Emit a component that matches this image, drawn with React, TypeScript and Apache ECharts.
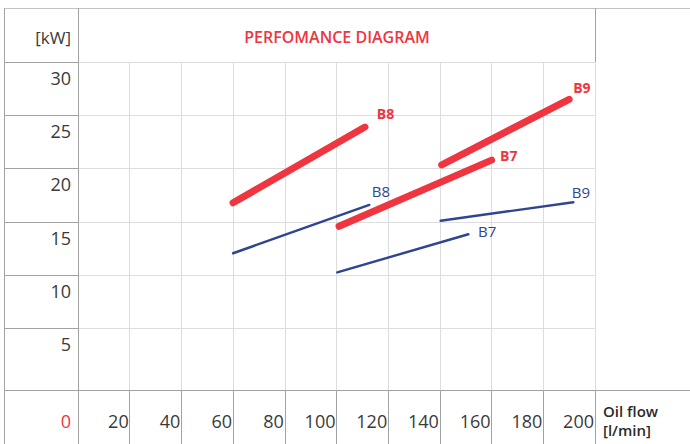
import React, { useEffect, useRef } from 'react';
import * as echarts from 'echarts';

// ---- data ----
const xMin = 0;
const xMax = 200;
const xStep = 20;
const yTickValues = [5, 10, 15, 20, 25, 30];
const yLabelValues = [5, 10, 15, 20, 25, 30];

const redB8 = [[60, 16.8], [111, 23.9]];
const redB7 = [[101, 14.6], [160, 20.8]];
const redB9 = [[140.7, 20.35], [190, 26.5]];
const blueB8 = [[60, 12.07], [112.7, 16.6]];
const blueB7 = [[100.3, 10.28], [151, 13.85]];
const blueB9 = [[140.3, 15.12], [191.6, 16.85]];

const titleText = 'PERFOMANCE DIAGRAM';
const yUnit = '[kW]';
const xUnit = 'Oil flow\n[l/min]';

// ---- styles ----
const RED = '#ee3540';
const BLUE = '#2f4592';
const DARK = '#a2a2a2';
const LIGHT = '#dddddd';
const TEXT = '#3a3a3a';
const FONT = '"Open Sans", "DejaVu Sans", sans-serif';

export default function App() {
  const ref = useRef<HTMLDivElement>(null);

  useEffect(() => {
    if (!ref.current) return;
    const chart = echarts.init(ref.current, undefined, { renderer: 'svg' });

    const mk = (
      name: string,
      data: number[][],
      color: string,
      width: number,
      bold: boolean,
      offset: number[]
    ) => ({
      type: 'line',
      name,
      data,
      symbol: 'none',
      showSymbol: false,
      silent: true,
      z: bold ? 4 : 3,
      lineStyle: { color, width, cap: 'round' },
      endLabel: {
        show: true,
        formatter: () => name,
        color,
        fontFamily: FONT,
        fontSize: bold ? 14 : 15,
        fontWeight: bold ? 'bold' : 'normal',
        distance: 0,
        offset,
        align: 'left',
        verticalAlign: 'middle',
      },
    });

    const hline = (x1: number, x2: number, y: number, color: string) => ({
      type: 'line',
      silent: true,
      shape: { x1, y1: y, x2, y2: y },
      style: { stroke: color, lineWidth: 1 },
    });
    const vline = (x: number, y1: number, y2: number, color: string) => ({
      type: 'line',
      silent: true,
      shape: { x1: x, y1, x2: x, y2 },
      style: { stroke: color, lineWidth: 1 },
    });

    const option: any = {
      animation: false,
      backgroundColor: '#ffffff',
      grid: { left: 78, top: 62, width: 517, height: 328, containLabel: false },
      xAxis: {
        type: 'value',
        min: xMin,
        max: xMax,
        interval: xStep,
        axisLine: { show: true, onZero: false, lineStyle: { color: DARK, width: 1 } },
        axisTick: { show: true, inside: false, length: 54, lineStyle: { color: DARK } },
        splitLine: { show: true, lineStyle: { color: LIGHT, width: 1 } },
        axisLabel: {
          show: true,
          showMinLabel: true,
          showMaxLabel: true,
          align: 'right',
          verticalAlign: 'middle',
          margin: 31,
          padding: [0, 1, 0, 0],
          fontFamily: FONT,
          fontSize: 18,
          color: TEXT,
          formatter: (v: number) => (v === 0 ? '{z|0}' : String(v)),
          rich: {
            z: { color: RED, fontFamily: FONT, fontSize: 18, padding: [0, 6, 0, 0] },
          },
        },
      },
      yAxis: {
        type: 'value',
        min: -0.75,
        max: 30,
        axisLine: { show: true, onZero: false, lineStyle: { color: DARK, width: 1 } },
        axisTick: {
          show: true,
          inside: false,
          length: 74,
          customValues: yTickValues,
          lineStyle: { color: DARK },
        },
        splitLine: { show: true, lineStyle: { color: LIGHT, width: 1 } },
        axisLabel: {
          show: true,
          customValues: yLabelValues,
          margin: 7,
          verticalAlign: 'top',
          lineHeight: 31,
          fontFamily: FONT,
          fontSize: 18,
          color: TEXT,
        },
      },
      graphic: [
        hline(4, 690, 8.5, '#c4c4c4'),
        vline(4.5, 8, 444, DARK),
        vline(78.5, 8, 444, DARK),
        vline(595.5, 8, 444, DARK),
        hline(4, 78, 390.5, DARK),
        hline(595, 690, 390.5, DARK),
        {
          type: 'text',
          silent: true,
          x: 337,
          y: 37,
          style: {
            text: titleText,
            fill: RED,
            font: `600 16px ${FONT}`,
            textAlign: 'center',
            textVerticalAlign: 'middle',
          },
        },
        {
          type: 'text',
          silent: true,
          x: 71,
          y: 37,
          style: {
            text: yUnit,
            fill: TEXT,
            font: `17px ${FONT}`,
            textAlign: 'right',
            textVerticalAlign: 'middle',
          },
        },
        {
          type: 'text',
          silent: true,
          x: 603,
          y: 420,
          style: {
            text: xUnit,
            fill: '#2a2a2a',
            font: `600 15px ${FONT}`,
            lineHeight: 19,
            textAlign: 'left',
            textVerticalAlign: 'middle',
          },
        },
      ],
      series: [
        mk('B8', blueB8, BLUE, 2.4, false, [2.4, -14]),
        mk('B7', blueB7, BLUE, 2.4, false, [9.7, -3]),
        mk('B9', blueB9, BLUE, 2.4, false, [-1.6, -10]),
        mk('B8', redB8, RED, 7, true, [11.8, -14]),
        mk('B7', redB7, RED, 7, true, [8.4, -5]),
        mk('B9', redB9, RED, 7, true, [4, -12]),
      ],
    };

    chart.setOption(option);
    return () => chart.dispose();
  }, []);

  return (
    <div
      ref={ref}
      style={{ position: 'fixed', left: 0, top: 0, width: 690, height: 444, background: '#fff' }}
    />
  );
}
